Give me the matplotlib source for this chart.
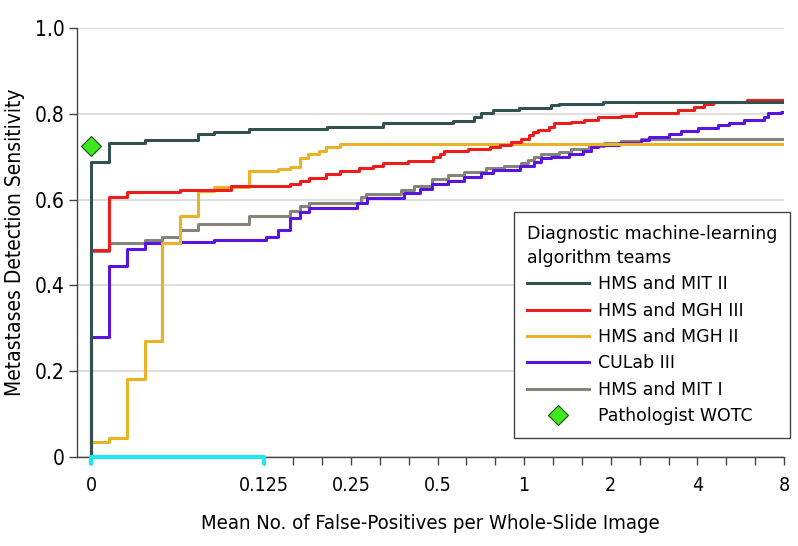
import matplotlib
matplotlib.use("Agg")
import matplotlib.pyplot as plt
import numpy as np

# FROC curves (step points: false positives per slide, sensitivity)
mit2_x = [0, 0.013, 0.039, 0.077, 0.089, 0.114, 0.207, 0.324, 0.568, 0.667, 0.706, 0.777, 0.957, 1.236, 1.318, 1.877]
mit2_y = [0.688, 0.733, 0.739, 0.753, 0.758, 0.765, 0.770, 0.778, 0.783, 0.792, 0.801, 0.809, 0.814, 0.820, 0.824, 0.828]

mgh3_x = [0, 0.013, 0.026, 0.064, 0.101, 0.153, 0.167, 0.179, 0.205, 0.230, 0.266, 0.299, 0.324, 0.396, 0.484,
          0.512, 0.525, 0.636, 0.759, 0.822, 0.898, 0.973, 1.037, 1.070, 1.114, 1.217, 1.266, 1.452, 1.611, 1.802,
          2.167, 2.444, 3.423, 3.891, 4.214, 4.529, 5.946]
mgh3_y = [0.483, 0.606, 0.617, 0.622, 0.631, 0.636, 0.644, 0.650, 0.659, 0.667, 0.673, 0.678, 0.685, 0.691, 0.699,
          0.706, 0.713, 0.717, 0.722, 0.727, 0.735, 0.741, 0.750, 0.758, 0.762, 0.770, 0.778, 0.782, 0.786, 0.792,
          0.796, 0.801, 0.809, 0.817, 0.823, 0.827, 0.832]

mgh2_x = [0, 0.013, 0.026, 0.039, 0.051, 0.064, 0.077, 0.089, 0.114, 0.140, 0.153, 0.167, 0.178, 0.193, 0.205, 0.230]
mgh2_y = [0.034, 0.044, 0.182, 0.270, 0.498, 0.561, 0.620, 0.630, 0.667, 0.671, 0.677, 0.698, 0.706, 0.714, 0.722, 0.730]

culab3_x = [0, 0.013, 0.026, 0.039, 0.064, 0.089, 0.127, 0.140, 0.153, 0.167, 0.179, 0.263, 0.285, 0.381, 0.436,
            0.480, 0.542, 0.616, 0.706, 0.777, 0.965, 1.079, 1.142, 1.236, 1.428, 1.598, 1.704, 1.802, 2.131, 2.544,
            2.711, 3.185, 3.505, 4.016, 4.714, 5.149, 5.807, 6.816, 7.037, 7.809]
culab3_y = [0.280, 0.445, 0.485, 0.498, 0.502, 0.507, 0.512, 0.530, 0.556, 0.571, 0.581, 0.591, 0.603, 0.615, 0.624,
            0.636, 0.644, 0.652, 0.661, 0.669, 0.678, 0.688, 0.697, 0.700, 0.706, 0.714, 0.722, 0.727, 0.733, 0.739,
            0.745, 0.752, 0.761, 0.766, 0.774, 0.779, 0.786, 0.793, 0.801, 0.805]

mit1_x = [0, 0.013, 0.039, 0.051, 0.064, 0.077, 0.114, 0.153, 0.167, 0.179, 0.270, 0.281, 0.372, 0.413, 0.480,
          0.542, 0.616, 0.735, 0.849, 0.973, 1.028, 1.079, 1.142, 1.318, 1.452, 1.677, 1.891, 2.167, 2.544]
mit1_y = [0.480, 0.498, 0.505, 0.512, 0.529, 0.543, 0.561, 0.573, 0.586, 0.592, 0.605, 0.613, 0.622, 0.632, 0.647,
          0.657, 0.665, 0.673, 0.678, 0.686, 0.692, 0.699, 0.706, 0.712, 0.719, 0.725, 0.731, 0.737, 0.742]

pathologist_x = [0]
pathologist_y = [0.724]

teams = ["HMS and MIT II", "HMS and MGH III", "HMS and MGH II", "CULab III", "HMS and MIT I"]
colors = ["#33514f", "#ee1c1c", "#ecb226", "#5a14e0", "#86847a"]
xs = [mit2_x, mgh3_x, mgh2_x, culab3_x, mit1_x]
ys = [mit2_y, mgh3_y, mgh2_y, culab3_y, mit1_y]

xticks = [0, 0.125, 0.25, 0.5, 1, 2, 4, 8]
xticklabels = ["0", "0.125", "0.25", "0.5", "1", "2", "4", "8"]
yticks = [0, 0.2, 0.4, 0.6, 0.8, 1.0]
yticklabels = ["0", "0.2", "0.4", "0.6", "0.8", "1.0"]


# linear up to 0.125, log2 above
def fwd(x):
    x = np.asarray(x, dtype=float)
    return np.where(x <= 0.125, x * 16, 2 + np.log2(np.maximum(x, 0.125) / 0.125))


def inv(t):
    t = np.asarray(t, dtype=float)
    return np.where(t <= 2, t / 16, 0.125 * 2 ** (np.maximum(t, 2) - 2))


axis_font = dict(family="DejaVu Sans", stretch="condensed")

fig = plt.figure(figsize=(7.98, 5.46), dpi=100)
ax = fig.add_axes([0.0965, 0.163, 0.886, 0.7857])
ax.set_xscale("function", functions=(fwd, inv))

handles = {}
for i in range(len(teams) - 1, -1, -1):
    x = [0] + xs[i] + [8]
    y = [0] + ys[i] + [ys[i][-1]]
    ln, = ax.step(x, y, where="post", color=colors[i], lw=2.2, zorder=3 + (4 - i) * 0.1, label=teams[i])
    handles[teams[i]] = ln

pt, = ax.plot(pathologist_x, pathologist_y, ls="none", marker="D", ms=10, mfc="#3ee81c", mec="#1a4a10",
              mew=0.8, zorder=5, label="Pathologist WOTC")

ax.set_xlim(-0.0101, 8)
ax.set_ylim(0, 1.0)

ax.set_xticks(xticks)
ax.set_xticklabels(xticklabels, fontsize=14, **axis_font)
minor = [0.125 * 2 ** (k / 3) for k in range(1, 18) if k % 3 != 0]
ax.set_xticks(minor, minor=True)
ax.set_yticks(yticks)
ax.set_yticklabels(yticklabels, fontsize=15, **axis_font)
ax.tick_params(axis="both", which="both", direction="out", length=6, width=1, color="#444444", pad=3)
ax.tick_params(axis="x", pad=8)

ax.grid(axis="y", color="#d9d9d9", lw=1.2)
ax.set_axisbelow(True)
for s in ["top", "right"]:
    ax.spines[s].set_visible(False)
for s in ["left", "bottom"]:
    ax.spines[s].set_color("#444444")
    ax.spines[s].set_linewidth(1)

# highlight of the linear part of the axis
ax.plot([0, 0, 0.125, 0.125], [-0.014, 0, 0, -0.014], color="#22e6f2", lw=3,
        transform=ax.get_xaxis_transform(), clip_on=False, zorder=6)

ax.set_xlabel("Mean No. of False-Positives per Whole-Slide Image", fontsize=14.6, labelpad=13, **axis_font)
ax.set_ylabel("Metastases Detection Sensitivity", fontsize=15, labelpad=7, **axis_font)

leg_handles = [handles[t] for t in teams] + [pt]
leg = ax.legend(leg_handles, teams + ["Pathologist WOTC"], title="Diagnostic machine-learning\nalgorithm teams",
                loc="lower right", bbox_to_anchor=(790 / 798, (546 - 438) / 546), bbox_transform=fig.transFigure,
                borderaxespad=0, fontsize=12.5, title_fontsize=12.5, alignment="left", handlelength=3.6,
                handletextpad=0.5, labelspacing=0.48, borderpad=0.75, fancybox=False, framealpha=1,
                edgecolor="#444444", numpoints=1)
leg.get_frame().set_linewidth(1)
plt.setp(leg.get_title(), linespacing=1.45)

fig.savefig("out.png", dpi=100)
